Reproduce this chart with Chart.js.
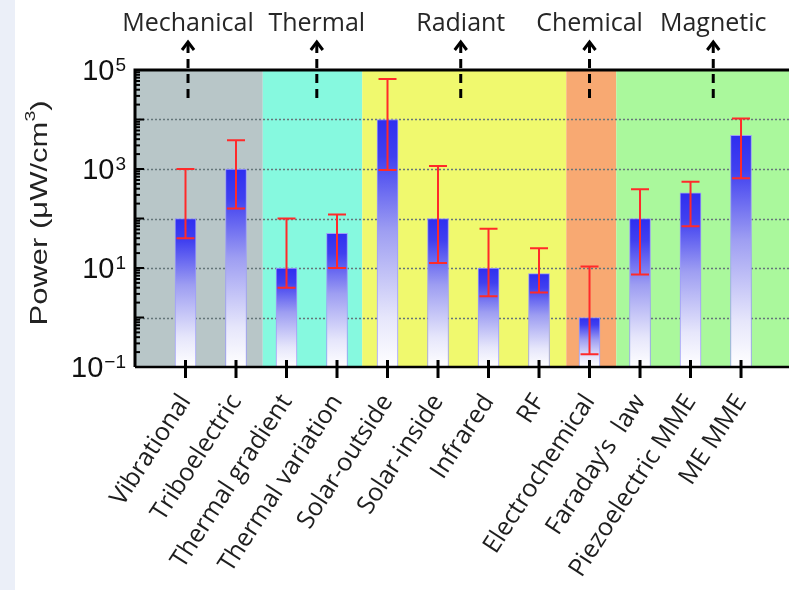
<!DOCTYPE html>
<html>
<head>
<meta charset="utf-8">
<script src="https://cdn.jsdelivr.net/npm/chart.js@4.4.1/dist/chart.umd.min.js"></script>
<style>
  html, body { margin: 0; padding: 0; background: #fff; }
  #wrap { width: 789px; height: 590px; }
</style>
</head>
<body>
<div id="wrap"><canvas id="powerChart" width="789" height="590"></canvas></div>
<script>
// data (µW/cm³)
const sources = ['Vibrational', 'Triboelectric', 'Thermal gradient', 'Thermal variation', 'Solar-outside',
  'Solar-inside', 'Infrared', 'RF', 'Electrochemical', 'Faraday\u2019s  law', 'Piezoelectric MME', 'ME MME'];
const power = [100, 1000, 10, 50, 10000, 100, 10, 7.7, 1, 100, 330, 4800];
const errLow = [40, 160, 4, 10, 960, 12.6, 2.7, 3.2, 0.18, 7.4, 70, 650];
const errHigh = [1000, 3800, 100, 120, 66000, 1150, 62, 25, 10.7, 390, 550, 10500];
const groups = ['Mechanical', 'Thermal', 'Radiant', 'Chemical', 'Magnetic'];
const yTickValues = [0.1, 10, 1000, 100000];

// layout bits (in x-scale units), kept apart from the data
const groupArrowAt = [1.05, 3.6, 6.45, 9.0, 11.45];
const bandEdges = [0, 2.53, 4.5, 8.54, 9.53, 13];
const bandColors = ['#b8c6c8', '#86f9df', '#f0f96e', '#f8a972', '#aaf89c'];

function barFill(c) {
  const chart = c.chart;
  const y = chart.scales.y;
  if (!y || c.dataIndex === undefined) return '#3434ee';
  const top = y.getPixelForValue(power[c.dataIndex]);
  const bot = y.getPixelForValue(0.1);
  if (!isFinite(top) || !isFinite(bot) || bot <= top) return '#3434ee';
  const g = chart.ctx.createLinearGradient(0, top, 0, bot);
  g.addColorStop(0, '#2e2ef0');
  g.addColorStop(0.15, '#4040f0');
  g.addColorStop(0.45, '#9e9ef2');
  g.addColorStop(0.8, '#e6e6fb');
  g.addColorStop(1, '#ffffff');
  return g;
}

const decor = {
  id: 'decor',
  beforeDraw(chart) {
    const ctx = chart.ctx;
    ctx.save();
    ctx.fillStyle = '#ebeff8';
    ctx.fillRect(0, 0, 15, chart.height);
    ctx.restore();
  },
  beforeDatasetsDraw(chart) {
    const { ctx, chartArea: a, scales: { x, y } } = chart;
    ctx.save();
    for (let i = 0; i < bandColors.length; i++) {
      const x0 = Math.max(a.left, x.getPixelForValue(bandEdges[i]));
      const x1 = Math.min(a.right, x.getPixelForValue(bandEdges[i + 1]));
      ctx.fillStyle = bandColors[i];
      ctx.fillRect(x0, a.top, x1 - x0, a.bottom - a.top);
    }
    // dotted decade lines
    ctx.strokeStyle = '#65767a';
    ctx.lineWidth = 1.5;
    ctx.setLineDash([2, 2]);
    for (let e = 0; e <= 4; e++) {
      const py = Math.round(y.getPixelForValue(Math.pow(10, e))) + 0.5;
      ctx.beginPath();
      ctx.moveTo(a.left, py);
      ctx.lineTo(a.right, py);
      ctx.stroke();
    }
    ctx.restore();
  },
  afterDatasetsDraw(chart) {
    const { ctx, chartArea: a, scales: { x, y } } = chart;
    ctx.save();
    // error bars
    ctx.strokeStyle = '#ff2a2a';
    ctx.lineWidth = 2;
    power.forEach((v, i) => {
      const px = x.getPixelForValue(i + 1);
      const hi = y.getPixelForValue(errHigh[i]);
      const lo = y.getPixelForValue(errLow[i]);
      ctx.beginPath();
      ctx.moveTo(px, hi); ctx.lineTo(px, lo);
      ctx.moveTo(px - 9, hi); ctx.lineTo(px + 9, hi);
      ctx.moveTo(px - 9, lo); ctx.lineTo(px + 9, lo);
      ctx.stroke();
    });
    // frame
    ctx.strokeStyle = '#000';
    ctx.lineWidth = 3;
    ctx.beginPath();
    ctx.moveTo(a.left, a.bottom);
    ctx.lineTo(a.left, a.top);
    ctx.lineTo(a.right, a.top);
    ctx.stroke();
    ctx.lineWidth = 2.5;
    ctx.beginPath();
    ctx.moveTo(a.left, a.bottom);
    ctx.lineTo(a.right, a.bottom);
    ctx.stroke();
    // log ticks on the left axis, pointing inward
    ctx.lineWidth = 2;
    for (let e = -1; e < 5; e++) {
      for (let m = 1; m < 10; m++) {
        const py = y.getPixelForValue(m * Math.pow(10, e));
        const len = m === 1 ? 9 : 5;
        ctx.beginPath();
        ctx.moveTo(a.left, py);
        ctx.lineTo(a.left + len, py);
        ctx.stroke();
      }
    }
    // category ticks crossing the bottom axis
    ctx.lineWidth = 3;
    sources.forEach((s, i) => {
      const px = x.getPixelForValue(i + 1);
      ctx.beginPath();
      ctx.moveTo(px, a.bottom - 7);
      ctx.lineTo(px, a.bottom + 11);
      ctx.stroke();
    });
    ctx.restore();
  },
  afterDraw(chart) {
    const { ctx, chartArea: a, scales: { x, y } } = chart;
    ctx.save();
    // y tick labels 10^n
    ctx.fillStyle = '#111';
    yTickValues.forEach(v => {
      const py = y.getPixelForValue(v);
      const expo = String(Math.round(Math.log10(v))).replace('-', '\u2212');
      ctx.font = '19px "Liberation Sans", Arial, sans-serif';
      const ew = ctx.measureText(expo).width;
      const right = 126;
      ctx.textAlign = 'right';
      ctx.textBaseline = 'top';
      ctx.fillText(expo, right, py - 14);
      ctx.font = '29px "Liberation Sans", Arial, sans-serif';
      ctx.textBaseline = 'middle';
      ctx.fillText('10', right - ew - 1, py + 2);
    });
    // axis title, stretched to the figure's length
    ctx.save();
    ctx.translate(40, 213);
    ctx.rotate(-Math.PI / 2);
    const mainFont = '24px "Liberation Sans", Arial, sans-serif';
    const supFont = '15px "Liberation Sans", Arial, sans-serif';
    ctx.font = mainFont;
    const p1 = 'Power (\u03bcW/cm';
    const w1 = ctx.measureText(p1).width;
    const w3 = ctx.measureText(')').width;
    ctx.font = supFont;
    const w2 = ctx.measureText('3').width;
    const total = w1 + w2 + w3;
    ctx.scale(225 / total, 1);
    ctx.fillStyle = '#222';
    ctx.textBaseline = 'middle';
    ctx.textAlign = 'left';
    ctx.font = mainFont;
    ctx.fillText(p1, -total / 2, 0);
    ctx.font = supFont;
    ctx.fillText('3', -total / 2 + w1, -9);
    ctx.font = mainFont;
    ctx.fillText(')', -total / 2 + w1 + w2, 0);
    ctx.restore();
    // group labels with dashed arrows
    groups.forEach((g, i) => {
      const px = x.getPixelForValue(groupArrowAt[i]);
      ctx.fillStyle = '#262626';
      ctx.font = '25px "Open Sans", sans-serif';
      ctx.textAlign = 'center';
      ctx.textBaseline = 'alphabetic';
      ctx.fillText(g, px, 31);
      ctx.strokeStyle = '#000';
      ctx.lineWidth = 3;
      ctx.setLineDash([9, 6]);
      ctx.beginPath();
      ctx.moveTo(px, 44);
      ctx.lineTo(px, 104);
      ctx.stroke();
      ctx.setLineDash([]);
      ctx.beginPath();
      ctx.moveTo(px - 6, 50);
      ctx.lineTo(px, 42);
      ctx.lineTo(px + 6, 50);
      ctx.stroke();
    });
    ctx.restore();
  }
};

new Chart(document.getElementById('powerChart'), {
  type: 'bar',
  data: {
    datasets: [{
      data: power.map((v, i) => ({ x: i + 1, y: [0.1, v] })),
      backgroundColor: barFill,
      borderColor: '#9d9df6',
      borderWidth: 1,
      borderSkipped: 'start',
      barThickness: 21
    }]
  },
  options: {
    responsive: false,
    animation: false,
    layout: { padding: { left: 135, top: 70, right: 0, bottom: 0 } },
    plugins: { legend: { display: false }, tooltip: { enabled: false } },
    scales: {
      x: {
        type: 'linear',
        min: 0,
        max: 12.95,
        offset: false,
        grid: { display: false, drawTicks: false, offset: false },
        border: { display: false },
        afterBuildTicks: s => { s.ticks = sources.map((_, i) => ({ value: i + 1 })); },
        afterFit: s => { s.height = 223; },
        ticks: {
          autoSkip: false,
          minRotation: 57,
          maxRotation: 57,
          padding: 22,
          color: '#1e1e1e',
          font: { family: 'Open Sans', size: 25 },
          callback: v => sources[v - 1]
        }
      },
      y: {
        type: 'logarithmic',
        min: 0.1,
        max: 100000,
        display: false
      }
    }
  },
  plugins: [decor]
});
</script>
</body>
</html>
